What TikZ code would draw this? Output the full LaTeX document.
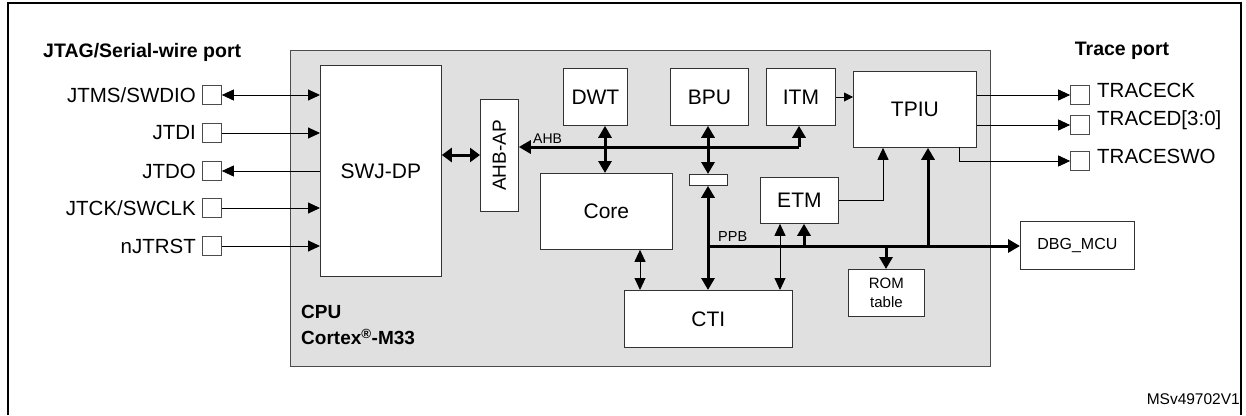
\documentclass[tikz,border=0pt]{standalone}
\usepackage{fontspec}
\setmainfont{Liberation Sans}
\usetikzlibrary{arrows.meta}
\begin{document}
\begin{tikzpicture}[x=1pt,y=-1pt,
  box/.style={draw=black!80,fill=white,line width=0.8pt,anchor=north west,inner sep=0pt,font=\fontsize{21}{23}\selectfont},
  sbox/.style={box,font=\fontsize{16}{18}\selectfont},
  pin/.style={draw=black!70,fill=white,line width=0.7pt,minimum width=19pt,minimum height=19pt,inner sep=0pt},
  plab/.style={font=\fontsize{20.5}{22}\selectfont,inner sep=0pt},
  thin/.style={line width=0.9pt,-{Triangle[length=12pt,width=11pt]}},
  thinb/.style={line width=0.9pt,{Triangle[length=12pt,width=11pt]}-{Triangle[length=12pt,width=11pt]}},
  bus/.style={line width=3pt,-{Triangle[length=12pt,width=13pt]}},
  busb/.style={line width=3pt,{Triangle[length=12pt,width=13pt]}-{Triangle[length=12pt,width=13pt]}},
  title/.style={font=\bfseries\fontsize{19.5}{22}\selectfont,inner sep=0pt}]
\useasboundingbox (0,0) rectangle (1246,415);
\draw[line width=1.2pt] (8,415) -- (8,3) -- (1241,3) -- (1241,415);
\fill[black!12] (290,50) rectangle (990,366);
\draw[black!70,line width=0.8pt] (290,50) rectangle (990,366);
\node[title,anchor=west] (jt) at (43,52) {JTAG/Serial-wire port};
\node[title] (tp) at (1122,51) {Trace port};
\node[title,anchor=north west,align=left,font=\bfseries\fontsize{19}{26}\selectfont] (cpu) at (301,305) {CPU\\Cortex\textsuperscript{\textregistered}-M33};
\node[font=\fontsize{15.5}{17}\selectfont,anchor=east,inner sep=0pt] (ms) at (1240,399) {MSv49702V1};
% boxes
\node[box,minimum width=121pt,minimum height=211pt] (swj) at (320,65) {};
\node[font=\fontsize{21}{23}\selectfont] at (swj.center) {SWJ-DP};
\node[box,minimum width=38pt,minimum height=112pt] (ahbap) at (480,99) {};
\node[rotate=90,font=\fontsize{19}{21}\selectfont] at (ahbap.center) {AHB-AP};
\node[box,minimum width=64pt,minimum height=57pt] (dwt) at (563,68) {DWT};
\node[box,minimum width=78pt,minimum height=57pt] (bpu) at (670,68) {BPU};
\node[box,minimum width=69pt,minimum height=57pt] (itm) at (766,68) {ITM};
\node[box,minimum width=123pt,minimum height=76pt] (tpiu) at (853,71) {TPIU};
\node[box,minimum width=132pt,minimum height=76pt] (core) at (540,173) {Core};
\node[box,minimum width=38pt,minimum height=11pt] (bar) at (689,174) {};
\node[box,minimum width=78pt,minimum height=46pt] (etm) at (760,177) {ETM};
\node[box,minimum width=168pt,minimum height=57pt] (cti) at (624,290) {CTI};
\node[sbox,minimum width=76pt,minimum height=47pt,align=center,font=\fontsize{15}{19}\selectfont] (rom) at (848,269) {ROM\\table};
\node[sbox,minimum width=114pt,minimum height=48pt] (dbg) at (1020,221) {DBG\_MCU};
% left pins
\foreach \n/\y/\t in {1/95/JTMS\slash SWDIO,2/133/JTDI,3/171/JTDO,4/208/JTCK\slash SWCLK,5/246/nJTRST}{
  \node[pin] (p\n) at (212,\y) {};
  \node[plab,anchor=east] (l\n) at (196,\y) {\t};
}
\draw[thinb] (p1.east) -- (swj.west|-p1);
\draw[thin] (p2.east) -- (swj.west|-p2);
\draw[thin] (swj.west|-p3) -- (p3.east);
\draw[thin] (p4.east) -- (swj.west|-p4);
\draw[thin] (p5.east) -- (swj.west|-p5);
% right pins
\foreach \n/\y/\t in {1/95/TRACECK,2/125/TRACED[3:0],3/161/TRACESWO}{
  \node[pin] (q\n) at (1080,\y) {};
  \node[plab,anchor=west] (r\n) at (1097,\y-5) {\t};
}
\draw[thin] (tpiu.east|-q1) -- (q1.west);
\draw[thin] (tpiu.east|-q2) -- (q2.west);
\draw[thin] (959,147) |- (q3.west);
% swj - ahbap
\draw[busb,{Triangle[length=10pt,width=14pt]}-{Triangle[length=10pt,width=14pt]}] (swj.east|-0,155) -- (ahbap.west|-0,155);
% AHB bus
\coordinate (ahbE) at (799,147);
\draw[bus] (ahbE) -- (ahbap.east|-ahbE);
\draw[bus] (ahbE) -- (itm.south-|ahbE);
\node[font=\fontsize{14}{16}\selectfont,inner sep=0pt,anchor=south west] (ahbl) at (533,144) {AHB};
\draw[busb] (dwt.south-|605,0) -- (core.north-|605,0);
\draw[busb] (bpu.south-|708,0) -- (bar.north-|708,0);
% PPB
\coordinate (ppb) at (708,246);
\draw[busb] (bar.south-|ppb) -- (cti.north-|ppb);
\draw[bus] (ppb) -- (dbg.west|-ppb);
\node[font=\fontsize{14.5}{16}\selectfont,inner sep=0pt,anchor=south west] (ppbl) at (718,242) {PPB};
\draw[bus] (804,246) -- (etm.south-|804,0);
\draw[bus] (928,246) -- (tpiu.south-|928,0);
\draw[bus] (886,246) -- (rom.north-|886,0);
\draw[thinb] (cti.north-|780,0) -- (etm.south-|780,0);
\draw[thinb] (core.south-|640,0) -- (cti.north-|640,0);
\draw[thin] (etm.east|-0,200) -| (tpiu.south-|883,0);
\draw[line width=0.9pt,-{Triangle[length=9pt,width=9pt]}] (itm.east|-0,97) -- (tpiu.west|-0,97);
\end{tikzpicture}
\end{document}
